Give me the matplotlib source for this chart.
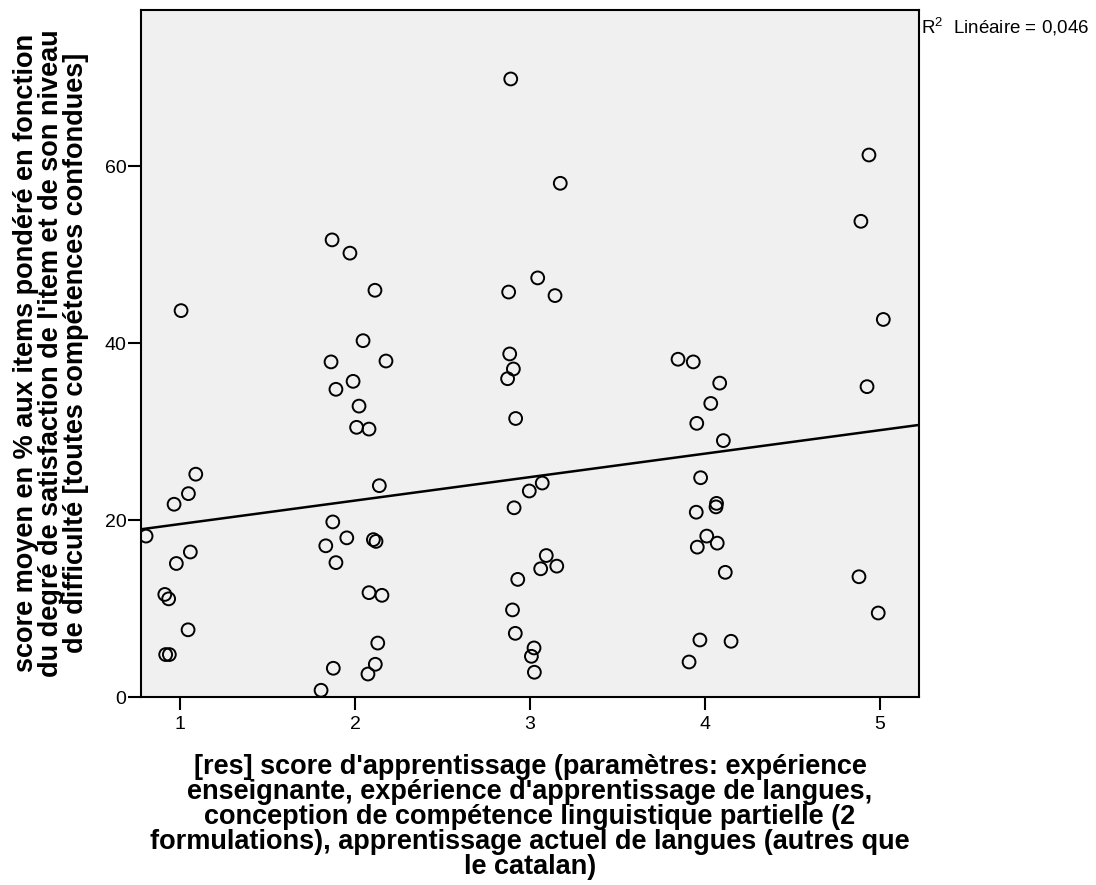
import numpy as np
import matplotlib
matplotlib.use("Agg")
import matplotlib.pyplot as plt

plt.rcParams['font.family'] = ['Liberation Sans', 'DejaVu Sans']
plt.rcParams['mathtext.fontset'] = 'custom'
plt.rcParams['mathtext.rm'] = 'Liberation Sans'

# score d'apprentissage (jittered around 1..5) and weighted mean score in %
x1 = [0.806, 1.006, 1.090, 1.048, 0.966, 1.059, 0.979, 0.913, 0.935, 1.046, 0.918, 0.939]
y1 = [18.2, 43.7, 25.2, 23.0, 21.8, 16.4, 15.1, 11.6, 11.1, 7.6, 4.8, 4.8]

x2 = [1.869, 1.971, 2.114, 2.046, 1.863, 2.177, 1.989, 1.891, 2.023, 2.009, 2.080,
      2.139, 1.873, 1.953, 1.833, 2.105, 2.120, 1.891, 2.080, 2.154, 2.130, 1.876,
      2.116, 2.074, 1.806]
y2 = [51.7, 50.2, 46.0, 40.3, 37.9, 38.0, 35.7, 34.8, 32.9, 30.5, 30.3,
      23.9, 19.8, 18.0, 17.1, 17.8, 17.6, 15.2, 11.8, 11.5, 6.1, 3.25,
      3.7, 2.6, 0.76]

x3 = [2.890, 3.173, 3.044, 2.878, 3.143, 2.884, 2.905, 2.872, 2.918, 3.070, 2.996,
      2.909, 3.093, 3.153, 3.061, 2.930, 2.900, 2.916, 3.023, 3.008, 3.025]
y3 = [69.9, 58.1, 47.4, 45.8, 45.4, 38.8, 37.1, 36.0, 31.5, 24.2, 23.3,
      21.4, 16.0, 14.8, 14.5, 13.3, 9.85, 7.2, 5.55, 4.6, 2.8]

x4 = [3.846, 3.933, 4.084, 4.033, 3.953, 4.105, 3.975, 4.066, 4.063, 3.950, 4.010,
      4.070, 3.956, 4.116, 3.971, 4.149, 3.909]
y4 = [38.2, 37.9, 35.5, 33.2, 30.95, 29.0, 24.8, 21.9, 21.5, 20.9, 18.2,
      17.4, 16.95, 14.1, 6.45, 6.3, 3.96]

x5 = [4.937, 4.891, 5.019, 4.926, 4.880, 4.990]
y5 = [61.3, 53.8, 42.7, 35.1, 13.6, 9.5]

xs = np.array(x1 + x2 + x3 + x4 + x5)
ys = np.array(y1 + y2 + y3 + y4 + y5)

x_ticks = [1, 2, 3, 4, 5]
y_ticks = [0, 20, 40, 60]

fig = plt.figure(figsize=(10.96, 8.85), dpi=100)
ax = fig.add_axes([141/1096, 1 - 697/885, 778/1096, 687/885])
ax.set_facecolor('#f0f0f0')

ax.scatter(xs, ys, s=85, facecolors='none', edgecolors='black', linewidths=1.4, zorder=3)

# linear fit on the un-jittered scores, drawn over the full x range
xmin, xmax = 0.777, 5.223
slope, icpt = np.polyfit(np.round(xs), ys, 1)
xl = np.array([xmin, xmax])
ax.plot(xl, icpt + slope * xl, color='black', lw=1.8, zorder=2)

ax.set_xlim(xmin, xmax)
ax.set_ylim(0, 77.7)
ax.set_xticks(x_ticks)
ax.set_yticks(y_ticks)
ax.tick_params(direction='out', length=9.5, width=1.5, labelsize=14)
ax.tick_params(axis='y', pad=1)
ax.tick_params(axis='x', pad=4)
for s in ax.spines.values():
    s.set_linewidth(1.5)

fig.text(921/1096, 1 - 27/885, 'R$^2$  Linéaire = 0,046', fontsize=13.5, ha='left', va='center')

fig.text(51/1096, 1 - 353/885,
         "score moyen en % aux items pondéré en fonction\n"
         "du degré de satisfaction de l'item et de son niveau\n"
         "de difficulté [toutes compétences confondues]",
         rotation=90, ha='center', va='center', multialignment='center',
         fontsize=19.5, fontweight='bold', linespacing=0.95)

fig.text(530/1096, 1 - 817/885,
         "[res] score d'apprentissage (paramètres: expérience\n"
         "enseignante, expérience d'apprentissage de langues,\n"
         "conception de compétence linguistique partielle (2\n"
         "formulations), apprentissage actuel de langues (autres que\n"
         "le catalan)",
         ha='center', va='center', multialignment='center',
         fontsize=19.5, fontweight='bold', linespacing=0.95)

fig.savefig('out.png', dpi=100)
